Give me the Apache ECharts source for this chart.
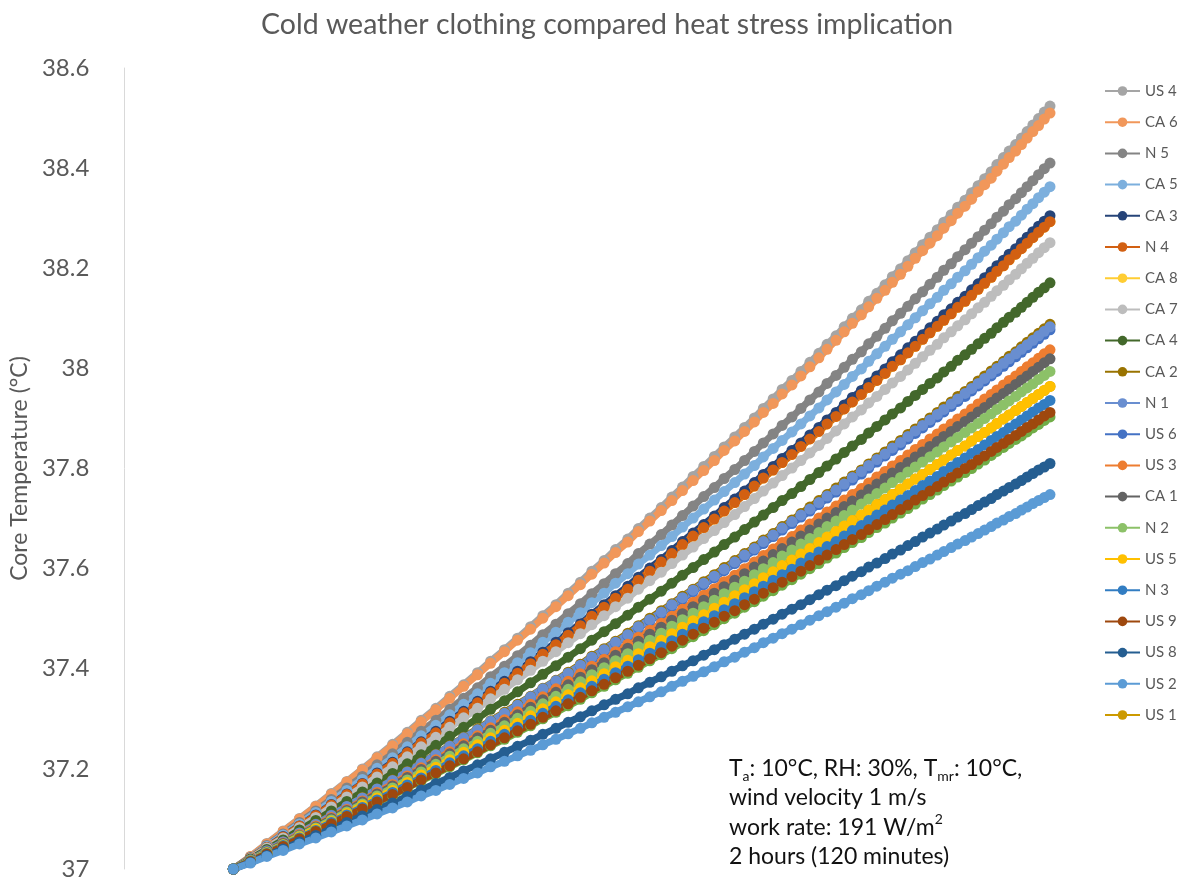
<!DOCTYPE html>
<html>
<head>
<meta charset="utf-8">
<title>Cold weather clothing compared heat stress implication</title>
<script src="https://cdn.jsdelivr.net/npm/echarts@6/dist/echarts.min.js"></script>
<style>
  html, body { margin: 0; padding: 0; background: #fff; }
  #chart { width: 1182px; height: 881px; }
</style>
</head>
<body>
<div id="chart"></div>
<script>
// hidden x axis: sample positions along each 2 h run (axis not labelled in the original)
const xValues = [
  0, 2.1, 4.1, 6.1, 8.1, 10.1, 12.0, 13.9, 15.8, 17.6,
  19.5, 21.3, 23.0, 24.8, 26.5, 28.2, 29.9, 31.5, 33.2, 34.8,
  36.4, 37.9, 39.5, 41.0, 42.5, 43.9, 45.4, 46.8, 48.3, 49.6,
  51.0, 52.4, 53.7, 55.0, 56.3, 57.6, 58.9, 60.1, 61.4, 62.6,
  63.8, 64.9, 66.1, 67.2, 68.4, 69.5, 70.6, 71.7, 72.7, 73.8,
  74.8, 75.8, 76.9, 77.8, 78.8, 79.8, 80.7, 81.7, 82.6, 83.5,
  84.4, 85.3, 86.2, 87.0, 87.9, 88.7, 89.6, 90.4, 91.2, 92.0,
  92.8, 93.5, 94.3, 95.0, 95.8, 96.5, 97.2, 97.9, 98.6, 99.3,
  100
];

// core temperature (°C) per clothing ensemble
const us4 = [37, 37.025, 37.051, 37.076, 37.101, 37.126, 37.151, 37.175, 37.200, 37.224,
  37.249, 37.273, 37.297, 37.321, 37.345, 37.368, 37.392, 37.415, 37.438, 37.461,
  37.484, 37.506, 37.528, 37.551, 37.573, 37.595, 37.616, 37.638, 37.659, 37.680,
  37.701, 37.722, 37.743, 37.763, 37.784, 37.804, 37.824, 37.843, 37.863, 37.882,
  37.901, 37.920, 37.939, 37.958, 37.976, 37.994, 38.012, 38.030, 38.048, 38.065,
  38.083, 38.100, 38.117, 38.134, 38.150, 38.167, 38.183, 38.199, 38.215, 38.231,
  38.247, 38.262, 38.277, 38.292, 38.307, 38.322, 38.336, 38.351, 38.365, 38.379,
  38.393, 38.407, 38.421, 38.434, 38.447, 38.460, 38.473, 38.486, 38.499, 38.512, 38.524];
const ca6 = [37, 37.025, 37.050, 37.075, 37.100, 37.125, 37.149, 37.174, 37.198, 37.222,
  37.246, 37.270, 37.294, 37.318, 37.341, 37.365, 37.388, 37.411, 37.434, 37.457,
  37.479, 37.501, 37.524, 37.546, 37.568, 37.589, 37.611, 37.632, 37.653, 37.674,
  37.695, 37.716, 37.736, 37.756, 37.776, 37.796, 37.816, 37.836, 37.855, 37.874,
  37.893, 37.912, 37.930, 37.949, 37.967, 37.985, 38.003, 38.021, 38.038, 38.056,
  38.073, 38.090, 38.107, 38.123, 38.140, 38.156, 38.172, 38.188, 38.204, 38.220,
  38.235, 38.250, 38.265, 38.280, 38.295, 38.310, 38.324, 38.338, 38.353, 38.367,
  38.380, 38.394, 38.408, 38.421, 38.434, 38.447, 38.460, 38.473, 38.485, 38.498, 38.510];
const n5 = [37, 37.023, 37.047, 37.070, 37.093, 37.116, 37.139, 37.162, 37.185, 37.208,
  37.230, 37.253, 37.275, 37.297, 37.319, 37.341, 37.362, 37.384, 37.405, 37.426,
  37.447, 37.468, 37.489, 37.510, 37.530, 37.550, 37.570, 37.590, 37.610, 37.630,
  37.649, 37.668, 37.687, 37.706, 37.725, 37.744, 37.762, 37.780, 37.798, 37.816,
  37.834, 37.851, 37.869, 37.886, 37.903, 37.920, 37.937, 37.953, 37.970, 37.986,
  38.002, 38.018, 38.033, 38.049, 38.064, 38.080, 38.095, 38.110, 38.124, 38.139,
  38.153, 38.168, 38.182, 38.196, 38.209, 38.223, 38.237, 38.250, 38.263, 38.276,
  38.289, 38.302, 38.314, 38.327, 38.339, 38.351, 38.363, 38.375, 38.387, 38.399, 38.410];
const ca5 = [37, 37.023, 37.045, 37.068, 37.090, 37.113, 37.135, 37.157, 37.179, 37.201,
  37.222, 37.244, 37.266, 37.287, 37.308, 37.329, 37.350, 37.371, 37.392, 37.412,
  37.432, 37.453, 37.473, 37.493, 37.512, 37.532, 37.551, 37.571, 37.590, 37.609,
  37.627, 37.646, 37.664, 37.683, 37.701, 37.719, 37.737, 37.754, 37.772, 37.789,
  37.806, 37.823, 37.840, 37.856, 37.873, 37.889, 37.905, 37.921, 37.937, 37.953,
  37.968, 37.984, 37.999, 38.014, 38.029, 38.044, 38.058, 38.073, 38.087, 38.101,
  38.115, 38.129, 38.142, 38.156, 38.169, 38.182, 38.195, 38.208, 38.221, 38.234,
  38.246, 38.258, 38.271, 38.283, 38.294, 38.306, 38.318, 38.329, 38.341, 38.352, 38.363];
const ca3 = [37, 37.022, 37.043, 37.065, 37.086, 37.108, 37.129, 37.150, 37.171, 37.192,
  37.213, 37.234, 37.254, 37.275, 37.295, 37.315, 37.335, 37.355, 37.375, 37.395,
  37.414, 37.433, 37.453, 37.472, 37.490, 37.509, 37.528, 37.546, 37.565, 37.583,
  37.601, 37.618, 37.636, 37.654, 37.671, 37.688, 37.705, 37.722, 37.739, 37.755,
  37.772, 37.788, 37.804, 37.820, 37.836, 37.851, 37.867, 37.882, 37.897, 37.912,
  37.927, 37.942, 37.956, 37.971, 37.985, 37.999, 38.013, 38.027, 38.041, 38.054,
  38.067, 38.081, 38.094, 38.107, 38.119, 38.132, 38.144, 38.157, 38.169, 38.181,
  38.193, 38.205, 38.216, 38.228, 38.239, 38.251, 38.262, 38.273, 38.284, 38.294, 38.305];
const n4 = [37, 37.022, 37.043, 37.064, 37.086, 37.107, 37.128, 37.149, 37.170, 37.190,
  37.211, 37.232, 37.252, 37.272, 37.292, 37.312, 37.332, 37.352, 37.371, 37.391,
  37.410, 37.429, 37.448, 37.467, 37.486, 37.505, 37.523, 37.541, 37.559, 37.577,
  37.595, 37.613, 37.630, 37.648, 37.665, 37.682, 37.699, 37.715, 37.732, 37.748,
  37.765, 37.781, 37.797, 37.812, 37.828, 37.844, 37.859, 37.874, 37.889, 37.904,
  37.919, 37.933, 37.948, 37.962, 37.976, 37.990, 38.004, 38.017, 38.031, 38.044,
  38.058, 38.071, 38.084, 38.096, 38.109, 38.122, 38.134, 38.146, 38.158, 38.170,
  38.182, 38.194, 38.205, 38.217, 38.228, 38.239, 38.250, 38.261, 38.272, 38.282, 38.293];
// CA 8 ends on the same track as N 4 (hidden beneath it in the original)
const ca8 = [37, 37.022, 37.043, 37.064, 37.086, 37.107, 37.128, 37.149, 37.170, 37.190,
  37.211, 37.232, 37.252, 37.272, 37.292, 37.312, 37.332, 37.352, 37.371, 37.391,
  37.410, 37.429, 37.448, 37.467, 37.486, 37.505, 37.523, 37.541, 37.559, 37.577,
  37.595, 37.613, 37.630, 37.648, 37.665, 37.682, 37.699, 37.715, 37.732, 37.748,
  37.765, 37.781, 37.797, 37.812, 37.828, 37.844, 37.859, 37.874, 37.889, 37.904,
  37.919, 37.933, 37.948, 37.962, 37.976, 37.990, 38.004, 38.017, 38.031, 38.044,
  38.058, 38.071, 38.084, 38.096, 38.109, 38.122, 38.134, 38.146, 38.158, 38.170,
  38.182, 38.194, 38.205, 38.217, 38.228, 38.239, 38.250, 38.261, 38.272, 38.282, 38.293];
const ca7 = [37, 37.021, 37.042, 37.062, 37.083, 37.103, 37.124, 37.144, 37.164, 37.184,
  37.204, 37.224, 37.244, 37.263, 37.283, 37.302, 37.321, 37.340, 37.359, 37.378,
  37.397, 37.415, 37.434, 37.452, 37.470, 37.488, 37.506, 37.524, 37.541, 37.559,
  37.576, 37.593, 37.610, 37.627, 37.643, 37.660, 37.676, 37.692, 37.708, 37.724,
  37.740, 37.755, 37.771, 37.786, 37.801, 37.816, 37.831, 37.846, 37.860, 37.875,
  37.889, 37.903, 37.917, 37.931, 37.944, 37.958, 37.971, 37.984, 37.997, 38.010,
  38.023, 38.036, 38.048, 38.061, 38.073, 38.085, 38.097, 38.109, 38.121, 38.132,
  38.144, 38.155, 38.166, 38.177, 38.188, 38.199, 38.210, 38.220, 38.231, 38.241, 38.251];
const ca4 = [37, 37.020, 37.039, 37.058, 37.078, 37.097, 37.116, 37.135, 37.154, 37.172,
  37.191, 37.210, 37.228, 37.247, 37.265, 37.283, 37.301, 37.319, 37.336, 37.354,
  37.372, 37.389, 37.406, 37.423, 37.440, 37.457, 37.474, 37.490, 37.507, 37.523,
  37.539, 37.555, 37.571, 37.587, 37.602, 37.618, 37.633, 37.648, 37.663, 37.678,
  37.693, 37.707, 37.722, 37.736, 37.750, 37.764, 37.778, 37.792, 37.805, 37.819,
  37.832, 37.845, 37.858, 37.871, 37.884, 37.897, 37.909, 37.921, 37.934, 37.946,
  37.958, 37.970, 37.981, 37.993, 38.004, 38.016, 38.027, 38.038, 38.049, 38.060,
  38.070, 38.081, 38.092, 38.102, 38.112, 38.122, 38.132, 38.142, 38.152, 38.161, 38.171];
const ca2 = [37, 37.018, 37.036, 37.054, 37.072, 37.090, 37.108, 37.125, 37.143, 37.160,
  37.178, 37.195, 37.212, 37.229, 37.246, 37.263, 37.280, 37.296, 37.313, 37.329,
  37.345, 37.361, 37.377, 37.393, 37.409, 37.425, 37.440, 37.455, 37.471, 37.486,
  37.501, 37.516, 37.530, 37.545, 37.559, 37.574, 37.588, 37.602, 37.616, 37.630,
  37.643, 37.657, 37.670, 37.684, 37.697, 37.710, 37.723, 37.736, 37.748, 37.761,
  37.773, 37.785, 37.797, 37.809, 37.821, 37.833, 37.845, 37.856, 37.868, 37.879,
  37.890, 37.901, 37.912, 37.923, 37.933, 37.944, 37.954, 37.964, 37.975, 37.985,
  37.995, 38.004, 38.014, 38.024, 38.033, 38.043, 38.052, 38.061, 38.070, 38.079, 38.088];
const n1 = [37, 37.018, 37.036, 37.054, 37.072, 37.089, 37.107, 37.125, 37.142, 37.160,
  37.177, 37.194, 37.211, 37.228, 37.245, 37.262, 37.278, 37.295, 37.311, 37.327,
  37.344, 37.360, 37.376, 37.391, 37.407, 37.423, 37.438, 37.453, 37.468, 37.484,
  37.498, 37.513, 37.528, 37.542, 37.557, 37.571, 37.585, 37.599, 37.613, 37.627,
  37.640, 37.654, 37.667, 37.681, 37.694, 37.707, 37.719, 37.732, 37.745, 37.757,
  37.769, 37.782, 37.794, 37.806, 37.818, 37.829, 37.841, 37.852, 37.864, 37.875,
  37.886, 37.897, 37.908, 37.918, 37.929, 37.939, 37.950, 37.960, 37.970, 37.980,
  37.990, 38.000, 38.010, 38.019, 38.029, 38.038, 38.047, 38.056, 38.065, 38.074, 38.083];
const us6 = [37, 37.018, 37.036, 37.054, 37.071, 37.089, 37.107, 37.124, 37.141, 37.159,
  37.176, 37.193, 37.210, 37.227, 37.243, 37.260, 37.277, 37.293, 37.309, 37.326,
  37.342, 37.358, 37.373, 37.389, 37.405, 37.420, 37.436, 37.451, 37.466, 37.481,
  37.496, 37.510, 37.525, 37.539, 37.554, 37.568, 37.582, 37.596, 37.610, 37.623,
  37.637, 37.650, 37.664, 37.677, 37.690, 37.703, 37.715, 37.728, 37.741, 37.753,
  37.765, 37.777, 37.789, 37.801, 37.813, 37.825, 37.836, 37.847, 37.859, 37.870,
  37.881, 37.892, 37.903, 37.913, 37.924, 37.934, 37.944, 37.955, 37.965, 37.975,
  37.985, 37.994, 38.004, 38.013, 38.023, 38.032, 38.041, 38.050, 38.059, 38.068, 38.077];
const us3 = [37, 37.017, 37.034, 37.052, 37.069, 37.086, 37.103, 37.119, 37.136, 37.153,
  37.169, 37.186, 37.202, 37.218, 37.234, 37.250, 37.266, 37.282, 37.298, 37.314,
  37.329, 37.344, 37.360, 37.375, 37.390, 37.405, 37.419, 37.434, 37.449, 37.463,
  37.477, 37.491, 37.505, 37.519, 37.533, 37.547, 37.560, 37.574, 37.587, 37.600,
  37.613, 37.626, 37.639, 37.652, 37.664, 37.677, 37.689, 37.701, 37.713, 37.725,
  37.737, 37.748, 37.760, 37.771, 37.783, 37.794, 37.805, 37.816, 37.827, 37.838,
  37.848, 37.859, 37.869, 37.879, 37.889, 37.899, 37.909, 37.919, 37.929, 37.939,
  37.948, 37.957, 37.967, 37.976, 37.985, 37.994, 38.003, 38.011, 38.020, 38.029, 38.037];
const ca1 = [37, 37.017, 37.034, 37.051, 37.067, 37.084, 37.101, 37.117, 37.134, 37.150,
  37.166, 37.183, 37.199, 37.215, 37.230, 37.246, 37.262, 37.277, 37.293, 37.308,
  37.323, 37.338, 37.353, 37.368, 37.383, 37.398, 37.412, 37.427, 37.441, 37.455,
  37.469, 37.483, 37.497, 37.510, 37.524, 37.537, 37.551, 37.564, 37.577, 37.590,
  37.603, 37.615, 37.628, 37.640, 37.653, 37.665, 37.677, 37.689, 37.701, 37.712,
  37.724, 37.735, 37.747, 37.758, 37.769, 37.780, 37.791, 37.802, 37.812, 37.823,
  37.833, 37.844, 37.854, 37.864, 37.874, 37.884, 37.894, 37.903, 37.913, 37.922,
  37.932, 37.941, 37.950, 37.959, 37.968, 37.977, 37.985, 37.994, 38.002, 38.011, 38.019];
const n2 = [37, 37.017, 37.033, 37.049, 37.066, 37.082, 37.098, 37.114, 37.130, 37.146,
  37.162, 37.178, 37.194, 37.209, 37.225, 37.240, 37.255, 37.271, 37.286, 37.301,
  37.315, 37.330, 37.345, 37.359, 37.374, 37.388, 37.402, 37.416, 37.430, 37.444,
  37.457, 37.471, 37.485, 37.498, 37.511, 37.524, 37.537, 37.550, 37.563, 37.575,
  37.588, 37.600, 37.612, 37.625, 37.637, 37.649, 37.660, 37.672, 37.684, 37.695,
  37.706, 37.717, 37.729, 37.739, 37.750, 37.761, 37.772, 37.782, 37.793, 37.803,
  37.813, 37.823, 37.833, 37.843, 37.853, 37.862, 37.872, 37.881, 37.890, 37.900,
  37.909, 37.918, 37.927, 37.935, 37.944, 37.953, 37.961, 37.969, 37.978, 37.986, 37.994];
const us5 = [37, 37.016, 37.032, 37.048, 37.064, 37.080, 37.095, 37.111, 37.127, 37.142,
  37.157, 37.173, 37.188, 37.203, 37.218, 37.233, 37.248, 37.262, 37.277, 37.291,
  37.306, 37.320, 37.334, 37.348, 37.362, 37.376, 37.390, 37.404, 37.417, 37.430,
  37.444, 37.457, 37.470, 37.483, 37.496, 37.508, 37.521, 37.533, 37.546, 37.558,
  37.570, 37.582, 37.594, 37.606, 37.617, 37.629, 37.640, 37.652, 37.663, 37.674,
  37.685, 37.696, 37.707, 37.717, 37.728, 37.738, 37.748, 37.759, 37.769, 37.779,
  37.788, 37.798, 37.808, 37.817, 37.827, 37.836, 37.845, 37.855, 37.864, 37.872,
  37.881, 37.890, 37.899, 37.907, 37.916, 37.924, 37.932, 37.940, 37.948, 37.956, 37.964];
// US 1 runs on the same track as US 5 (hidden beneath it in the original)
const us1 = [37, 37.016, 37.032, 37.048, 37.064, 37.080, 37.095, 37.111, 37.127, 37.142,
  37.157, 37.173, 37.188, 37.203, 37.218, 37.233, 37.248, 37.262, 37.277, 37.291,
  37.306, 37.320, 37.334, 37.348, 37.362, 37.376, 37.390, 37.404, 37.417, 37.430,
  37.444, 37.457, 37.470, 37.483, 37.496, 37.508, 37.521, 37.533, 37.546, 37.558,
  37.570, 37.582, 37.594, 37.606, 37.617, 37.629, 37.640, 37.652, 37.663, 37.674,
  37.685, 37.696, 37.707, 37.717, 37.728, 37.738, 37.748, 37.759, 37.769, 37.779,
  37.788, 37.798, 37.808, 37.817, 37.827, 37.836, 37.845, 37.855, 37.864, 37.872,
  37.881, 37.890, 37.899, 37.907, 37.916, 37.924, 37.932, 37.940, 37.948, 37.956, 37.964];
const n3 = [37, 37.016, 37.031, 37.047, 37.062, 37.077, 37.093, 37.108, 37.123, 37.138,
  37.153, 37.168, 37.182, 37.197, 37.212, 37.226, 37.240, 37.255, 37.269, 37.283,
  37.297, 37.311, 37.325, 37.338, 37.352, 37.365, 37.379, 37.392, 37.405, 37.418,
  37.431, 37.444, 37.456, 37.469, 37.481, 37.494, 37.506, 37.518, 37.530, 37.542,
  37.554, 37.565, 37.577, 37.588, 37.599, 37.611, 37.622, 37.633, 37.644, 37.654,
  37.665, 37.676, 37.686, 37.696, 37.707, 37.717, 37.727, 37.737, 37.746, 37.756,
  37.766, 37.775, 37.784, 37.794, 37.803, 37.812, 37.821, 37.830, 37.838, 37.847,
  37.856, 37.864, 37.872, 37.881, 37.889, 37.897, 37.905, 37.913, 37.921, 37.928, 37.936];
const us9 = [37, 37.015, 37.030, 37.045, 37.060, 37.075, 37.090, 37.105, 37.120, 37.134,
  37.149, 37.163, 37.178, 37.192, 37.206, 37.220, 37.234, 37.248, 37.262, 37.276,
  37.289, 37.303, 37.316, 37.330, 37.343, 37.356, 37.369, 37.382, 37.395, 37.407,
  37.420, 37.432, 37.445, 37.457, 37.469, 37.481, 37.493, 37.505, 37.516, 37.528,
  37.539, 37.551, 37.562, 37.573, 37.584, 37.595, 37.606, 37.617, 37.627, 37.638,
  37.648, 37.658, 37.668, 37.678, 37.688, 37.698, 37.708, 37.718, 37.727, 37.737,
  37.746, 37.755, 37.764, 37.773, 37.782, 37.791, 37.800, 37.808, 37.817, 37.825,
  37.834, 37.842, 37.850, 37.858, 37.866, 37.874, 37.882, 37.889, 37.897, 37.905, 37.912];
// green run with no legend entry in the original
const us7 = [37, 37.015, 37.030, 37.045, 37.060, 37.075, 37.089, 37.104, 37.119, 37.133,
  37.147, 37.162, 37.176, 37.190, 37.204, 37.218, 37.232, 37.246, 37.259, 37.273,
  37.286, 37.300, 37.313, 37.326, 37.339, 37.352, 37.365, 37.378, 37.391, 37.403,
  37.416, 37.428, 37.440, 37.452, 37.464, 37.476, 37.488, 37.500, 37.511, 37.523,
  37.534, 37.545, 37.556, 37.567, 37.578, 37.589, 37.600, 37.610, 37.621, 37.631,
  37.642, 37.652, 37.662, 37.672, 37.682, 37.691, 37.701, 37.711, 37.720, 37.729,
  37.739, 37.748, 37.757, 37.766, 37.775, 37.783, 37.792, 37.800, 37.809, 37.817,
  37.826, 37.834, 37.842, 37.850, 37.858, 37.865, 37.873, 37.881, 37.888, 37.896, 37.903];
const us8 = [37, 37.013, 37.027, 37.040, 37.054, 37.067, 37.080, 37.093, 37.106, 37.119,
  37.132, 37.145, 37.158, 37.171, 37.183, 37.196, 37.208, 37.220, 37.233, 37.245,
  37.257, 37.269, 37.281, 37.293, 37.304, 37.316, 37.328, 37.339, 37.350, 37.362,
  37.373, 37.384, 37.395, 37.406, 37.416, 37.427, 37.438, 37.448, 37.459, 37.469,
  37.479, 37.489, 37.499, 37.509, 37.519, 37.528, 37.538, 37.548, 37.557, 37.566,
  37.576, 37.585, 37.594, 37.603, 37.611, 37.620, 37.629, 37.637, 37.646, 37.654,
  37.663, 37.671, 37.679, 37.687, 37.695, 37.703, 37.710, 37.718, 37.726, 37.733,
  37.740, 37.748, 37.755, 37.762, 37.769, 37.776, 37.783, 37.790, 37.797, 37.803, 37.810];
const us2 = [37, 37.012, 37.025, 37.037, 37.050, 37.062, 37.074, 37.086, 37.098, 37.110,
  37.122, 37.134, 37.146, 37.157, 37.169, 37.181, 37.192, 37.204, 37.215, 37.226,
  37.237, 37.248, 37.259, 37.270, 37.281, 37.292, 37.303, 37.313, 37.324, 37.334,
  37.344, 37.354, 37.365, 37.375, 37.385, 37.394, 37.404, 37.414, 37.423, 37.433,
  37.442, 37.452, 37.461, 37.470, 37.479, 37.488, 37.497, 37.506, 37.514, 37.523,
  37.531, 37.540, 37.548, 37.556, 37.565, 37.573, 37.581, 37.589, 37.596, 37.604,
  37.612, 37.619, 37.627, 37.634, 37.642, 37.649, 37.656, 37.663, 37.670, 37.677,
  37.684, 37.691, 37.697, 37.704, 37.710, 37.717, 37.723, 37.730, 37.736, 37.742, 37.748];

// legend order as in the original
const legendNames = ['US 4', 'CA 6', 'N 5', 'CA 5', 'CA 3', 'N 4', 'CA 8', 'CA 7', 'CA 4', 'CA 2',
  'N 1', 'US 6', 'US 3', 'CA 1', 'N 2', 'US 5', 'N 3', 'US 9', 'US 8', 'US 2', 'US 1'];

// drawing order (first = bottom)
const runs = [
  ['US 1', us1, '#CC9A00'],
  ['CA 8', ca8, '#FFCD33'],
  ['US 4', us4, '#A5A5A5'],
  ['CA 6', ca6, '#F1975A'],
  ['N 5', n5, '#848484'],
  ['CA 5', ca5, '#7CAFDD'],
  ['CA 3', ca3, '#264478'],
  ['N 4', n4, '#D26012'],
  ['CA 7', ca7, '#BDBDBD'],
  ['CA 4', ca4, '#43682B'],
  ['CA 2', ca2, '#997300'],
  ['US 6', us6, '#4472C4'],
  ['N 1', n1, '#698ED0'],
  ['US 3', us3, '#ED7D31'],
  ['CA 1', ca1, '#636363'],
  ['N 2', n2, '#8CC168'],
  ['US 5', us5, '#FFC000'],
  ['N 3', n3, '#327DC2'],
  ['US 7', us7, '#70AD47'],
  ['US 9', us9, '#9E480E'],
  ['US 8', us8, '#255E91'],
  ['US 2', us2, '#5B9BD5']
];

const FONT = 'Lato, "Open Sans", sans-serif';

const chart = echarts.init(document.getElementById('chart'));

const series = runs.map(([name, values, color]) => ({
  name: name,
  type: 'line',
  data: xValues.map((x, i) => [x, values[i]]),
  symbol: 'circle',
  symbolSize: 11,
  showAllSymbol: true,
  clip: false,
  color: color,
  lineStyle: { width: 7, color: color },
  itemStyle: { color: color },
  emphasis: { disabled: true }
}));

chart.setOption({
  animation: false,
  backgroundColor: '#ffffff',
  title: {
    text: 'Cold weather clothing compared heat stress implication',
    left: 256,
    top: 5,
    textStyle: { fontFamily: FONT, fontSize: 28.5, fontWeight: 'normal', color: '#595959' }
  },
  grid: { left: 232, right: 132, top: 68, bottom: 11 },
  xAxis: { type: 'value', min: 0, max: 100, show: false },
  yAxis: {
    type: 'value',
    min: 37,
    max: 38.6,
    interval: 0.2,
    offset: 109,
    name: 'Core Temperature (°C)',
    nameLocation: 'middle',
    nameRotate: 90,
    nameGap: 90,
    nameTextStyle: { fontFamily: FONT, fontSize: 23, color: '#595959' },
    axisLine: { show: true, onZero: false, lineStyle: { color: '#d9d9d9', width: 1 } },
    axisTick: { show: false },
    splitLine: { show: false },
    axisLabel: { fontFamily: FONT, fontSize: 24, color: '#595959', margin: 35 }
  },
  legend: {
    data: legendNames,
    orient: 'vertical',
    left: 1099,
    top: 78.5,
    itemWidth: 35,
    itemHeight: 12,
    itemGap: 16.2,
    textStyle: { fontFamily: FONT, fontSize: 15, color: '#595959' }
  },
  graphic: [{
    type: 'text',
    left: 729,
    top: 757,
    style: {
      text: '{n|T}{sub|a}{n|: 10°C, RH: 30%, T}{sub|mr}{n|: 10°C,}\n' +
            '{n|wind velocity 1 m/s}\n' +
            '{n|work rate: 191 W/m}{sup|2}\n' +
            '{n|2 hours (120 minutes)}',
      rich: {
        n: { fontFamily: FONT, fontSize: 23, lineHeight: 29.3, fill: '#111' },
        sub: { fontFamily: FONT, fontSize: 14, lineHeight: 16, verticalAlign: 'bottom', fill: '#111' },
        sup: { fontFamily: FONT, fontSize: 14, lineHeight: 22, verticalAlign: 'top', fill: '#111' }
      }
    }
  }],
  series: series
});
</script>
</body>
</html>
